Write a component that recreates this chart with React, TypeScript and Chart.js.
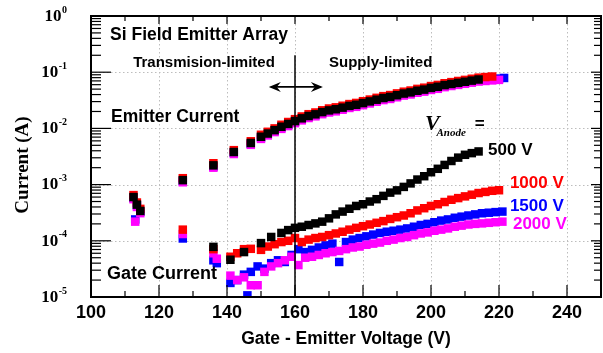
import React, { useEffect, useRef } from "react";
import { Chart, registerables } from "chart.js";

Chart.register(...registerables);

// ---------- data ----------
const emitterVoltage = [
  112.5, 113.5, 114.5, 127, 136, 142, 147, 150, 152, 154, 156, 158, 160, 162, 164, 166, 168, 170,
  172, 174, 176, 178, 180, 182, 184, 186, 188, 190, 192, 194, 196, 198, 200, 202, 204, 206, 208,
  210, 212, 214, 216, 218, 220, 221.5,
];
const emitterCurrent500 = [
  6.0e-4, 4.4e-4, 3.4e-4, 1.2e-3, 2.2e-3, 3.8e-3, 5.5e-3, 7.1e-3, 8.1e-3, 9.3e-3, 1.07e-2, 1.2e-2,
  1.35e-2, 1.51e-2, 1.66e-2, 1.78e-2, 1.95e-2, 2.09e-2, 2.19e-2, 2.34e-2, 2.51e-2, 2.63e-2, 2.82e-2,
  3.02e-2, 3.24e-2, 3.47e-2, 3.63e-2, 3.89e-2, 4.17e-2, 4.37e-2, 4.68e-2, 4.9e-2, 5.25e-2, 5.5e-2,
  5.89e-2, 6.17e-2, 6.46e-2, 6.76e-2, 7.08e-2, 7.41e-2,
];
const emitterCurrent1000 = [
  6.5e-4, 4.8e-4, 3.7e-4, 1.3e-3, 2.4e-3, 4.1e-3, 5.9e-3, 7.7e-3, 8.7e-3, 1.0e-2, 1.16e-2, 1.3e-2,
  1.46e-2, 1.63e-2, 1.79e-2, 1.92e-2, 2.1e-2, 2.26e-2, 2.37e-2, 2.53e-2, 2.71e-2, 2.84e-2, 3.05e-2,
  3.26e-2, 3.5e-2, 3.75e-2, 3.92e-2, 4.2e-2, 4.5e-2, 4.72e-2, 5.05e-2, 5.3e-2, 5.67e-2, 5.94e-2,
  6.36e-2, 6.66e-2, 6.98e-2, 7.3e-2, 7.65e-2, 8.0e-2, 8.2e-2, 8.38e-2,
];
const emitterCurrent1500 = [
  5.8e-4, 4.3e-4, 3.3e-4, 1.16e-3, 2.1e-3, 3.7e-3, 5.3e-3, 6.9e-3, 7.9e-3, 9.0e-3, 1.04e-2, 1.16e-2,
  1.31e-2, 1.46e-2, 1.61e-2, 1.73e-2, 1.89e-2, 2.03e-2, 2.12e-2, 2.27e-2, 2.43e-2, 2.55e-2, 2.74e-2,
  2.93e-2, 3.14e-2, 3.37e-2, 3.52e-2, 3.77e-2, 4.04e-2, 4.24e-2, 4.54e-2, 4.75e-2, 5.09e-2, 5.34e-2,
  5.71e-2, 5.98e-2, 6.27e-2, 6.56e-2, 6.87e-2, 7.19e-2, 7.36e-2, 7.53e-2, 7.7e-2, 7.9e-2,
];
const emitterCurrent2000 = [
  5.5e-4, 4.0e-4, 3.1e-4, 1.1e-3, 2.0e-3, 3.5e-3, 5.1e-3, 6.5e-3, 7.5e-3, 8.6e-3, 9.8e-3, 1.1e-2,
  1.24e-2, 1.39e-2, 1.53e-2, 1.64e-2, 1.79e-2, 1.92e-2, 2.01e-2, 2.15e-2, 2.31e-2, 2.42e-2, 2.59e-2,
  2.78e-2, 2.98e-2, 3.19e-2, 3.34e-2, 3.58e-2, 3.84e-2, 4.02e-2, 4.31e-2, 4.51e-2, 4.83e-2, 5.06e-2,
  5.42e-2, 5.68e-2, 5.94e-2, 6.22e-2, 6.51e-2, 6.82e-2, 6.98e-2, 7.14e-2, 7.3e-2,
];

const gateVoltage500 = [
  136, 141, 145, 150, 153, 156, 158, 160, 162, 164, 166, 168, 170, 172, 174, 176, 178, 180, 182,
  184, 186, 188, 190, 192, 194, 196, 198, 200, 202, 204, 206, 208, 210, 212, 214,
];
const gateCurrent500 = [
  7.8e-5, 4.6e-5, 6.3e-5, 9.1e-5, 1.17e-4, 1.38e-4, 1.55e-4, 1.7e-4, 1.78e-4, 1.91e-4, 2.04e-4,
  2.19e-4, 2.51e-4, 2.95e-4, 3.31e-4, 3.72e-4, 4.17e-4, 4.47e-4, 5.0e-4, 5.5e-4, 6.3e-4, 7.2e-4,
  7.9e-4, 9.1e-4, 1.05e-3, 1.23e-3, 1.41e-3, 1.66e-3, 1.91e-3, 2.24e-3, 2.63e-3, 3.02e-3, 3.39e-3,
  3.63e-3, 3.89e-3,
];
const gateVoltage1000 = [
  127, 136, 141, 143, 145, 147, 150, 152, 154, 156, 158, 160, 162, 164, 166, 168, 170, 172, 174,
  176, 178, 180, 182, 184, 186, 188, 190, 192, 194, 196, 198, 200, 202, 204, 206, 208, 210, 212,
  214, 216, 218, 220,
];
const gateCurrent1000 = [
  1.58e-4, 7.1e-5, 5.2e-5, 6.0e-5, 7.1e-5, 7.2e-5, 6.9e-5, 7.9e-5, 8.7e-5, 9.5e-5, 1.0e-4, 1.12e-4,
  9.5e-5, 1.05e-4, 1.12e-4, 1.17e-4, 1.26e-4, 1.35e-4, 1.45e-4, 1.58e-4, 1.7e-4, 1.82e-4, 1.95e-4,
  2.09e-4, 2.24e-4, 2.45e-4, 2.63e-4, 2.82e-4, 3.09e-4, 3.47e-4, 3.8e-4, 4.17e-4, 4.47e-4, 4.9e-4,
  5.37e-4, 5.75e-4, 6.17e-4, 6.61e-4, 7.08e-4, 7.41e-4, 7.76e-4, 7.94e-4,
];
const gateVoltage1500 = [
  113, 127, 136, 137, 141, 143, 145, 146, 147, 149, 151, 153, 155, 157, 159, 161, 163, 165, 167,
  169, 171, 173, 175, 177, 179, 181, 183, 185, 187, 189, 191, 193, 195, 197, 199, 201, 203, 205,
  207, 209, 211, 213, 215, 217, 219, 221,
];
const gateCurrent1500 = [
  2.4e-4, 1.1e-4, 4.5e-5, 4.0e-5, 1.78e-5, 2.0e-5, 2.5e-5, 1.07e-5, 2.8e-5, 3.5e-5, 3.2e-5, 4.0e-5,
  4.5e-5, 4.2e-5, 5.6e-5, 7.1e-5, 6.3e-5, 6.9e-5, 7.6e-5, 8.3e-5, 8.9e-5, 4.2e-5, 9.5e-5, 1.05e-4,
  1.12e-4, 1.2e-4, 1.29e-4, 1.38e-4, 1.45e-4, 1.51e-4, 1.58e-4, 1.66e-4, 1.78e-4, 1.91e-4, 2.0e-4,
  2.14e-4, 2.29e-4, 2.4e-4, 2.57e-4, 2.69e-4, 2.82e-4, 2.95e-4, 3.09e-4, 3.16e-4, 3.24e-4, 3.31e-4,
];
const gateVoltage2000 = [
  113, 127, 136, 137, 141, 143, 145, 147, 149, 151, 153, 155, 157, 159, 161, 163, 165, 167, 169,
  171, 173, 175, 177, 179, 181, 183, 185, 187, 189, 191, 193, 195, 197, 199, 201, 203, 205, 207,
  209, 211, 213, 215, 217, 219, 221,
];
const gateCurrent2000 = [
  2.19e-4, 1.32e-4, 6.0e-5, 4.8e-5, 2.4e-5, 2.0e-5, 2.24e-5, 1.62e-5, 1.62e-5, 2.8e-5, 3.5e-5,
  4.0e-5, 4.5e-5, 5.2e-5, 3.7e-5, 5.0e-5, 5.2e-5, 5.6e-5, 6.0e-5, 6.3e-5, 6.6e-5, 7.1e-5, 7.6e-5,
  7.9e-5, 8.5e-5, 8.9e-5, 9.3e-5, 1.0e-4, 1.05e-4, 1.12e-4, 1.17e-4, 1.26e-4, 1.35e-4, 1.41e-4,
  1.51e-4, 1.58e-4, 1.66e-4, 1.78e-4, 1.86e-4, 1.95e-4, 2.0e-4, 2.04e-4, 2.09e-4, 2.14e-4, 2.19e-4,
];

const xTickLabels = [100, 120, 140, 160, 180, 200, 220, 240];
const yDecades = [1, 1e-1, 1e-2, 1e-3, 1e-4, 1e-5];
const yExponents = ["0", "-1", "-2", "-3", "-4", "-5"];
const anodeLabels = ["500 V", "1000 V", "1500 V", "2000 V"];
const xAxisTitle = "Gate - Emitter Voltage (V)";
const yAxisTitle = "Current (A)";
const regionBoundary = 160;

// ---------- styles ----------
const COLORS = ["#000000", "#ff0000", "#0000ff", "#ff00ff"];
const SANS = '"Liberation Sans", Arial, sans-serif';
const SERIF = '"Liberation Serif", "Times New Roman", serif';

type Note = { text: string; x: number; y: number; font: string; color: string };
const notes: Note[] = [
  { text: "Si Field Emitter Array", x: 105.6, y: 0.459, font: `bold 17.5px ${SANS}`, color: "#000" },
  { text: "Transmision-limited", x: 112.4, y: 0.146, font: `bold 15px ${SANS}`, color: "#000" },
  { text: "Supply-limited", x: 170, y: 0.146, font: `bold 15px ${SANS}`, color: "#000" },
  { text: "Emitter Current", x: 105.9, y: 0.016, font: `bold 17.5px ${SANS}`, color: "#000" },
  { text: "Gate Current", x: 104.7, y: 2.57e-5, font: `bold 18px ${SANS}`, color: "#000" },
  { text: "V", x: 198.2, y: 0.0117, font: `bold italic 22px ${SERIF}`, color: "#000" },
  { text: "Anode", x: 201.6, y: 8.3e-3, font: `bold italic 11px ${SERIF}`, color: "#000" },
  { text: "=", x: 212.9, y: 0.0117, font: `bold 17px ${SANS}`, color: "#000" },
  { text: anodeLabels[0], x: 216.8, y: 4.13e-3, font: `bold 17px ${SANS}`, color: COLORS[0] },
  { text: anodeLabels[1], x: 223.2, y: 1.07e-3, font: `bold 17px ${SANS}`, color: COLORS[1] },
  { text: anodeLabels[2], x: 223.2, y: 4.17e-4, font: `bold 17px ${SANS}`, color: COLORS[2] },
  { text: anodeLabels[3], x: 224.1, y: 2.0e-4, font: `bold 17px ${SANS}`, color: COLORS[3] },
];

function pts(xs: number[], ys: number[]) {
  return ys.map((y, i) => ({ x: xs[i], y }));
}

function ds(data: { x: number; y: number }[], color: string) {
  return {
    data,
    backgroundColor: color,
    borderColor: color,
    borderWidth: 0,
    pointBorderWidth: 0,
    pointStyle: "rect" as const,
    pointRadius: 6,
    pointHoverRadius: 6,
    showLine: false,
  };
}

const decorPlugin = {
  id: "decor",
  beforeDatasetsDraw(chart: any) {
    const { ctx, chartArea: a, scales } = chart;
    const x = scales.x;
    const y = scales.y;
    ctx.save();
    ctx.strokeStyle = "#bdbdbd";
    ctx.lineWidth = 1;
    ctx.setLineDash([1.5, 2.5]);
    xTickLabels.forEach((v) => {
      const px = Math.round(x.getPixelForValue(v)) + 0.5;
      if (px <= a.left + 2 || px >= a.right - 2) return;
      ctx.beginPath();
      ctx.moveTo(px, a.top);
      ctx.lineTo(px, a.bottom);
      ctx.stroke();
    });
    yDecades.forEach((d) => {
      const py = Math.round(y.getPixelForValue(d)) + 0.5;
      if (py <= a.top + 2 || py >= a.bottom - 2) return;
      ctx.beginPath();
      ctx.moveTo(a.left, py);
      ctx.lineTo(a.right, py);
      ctx.stroke();
    });
    ctx.restore();
  },
  afterDatasetsDraw(chart: any) {
    const { ctx, chartArea: a, scales } = chart;
    const x = scales.x;
    const y = scales.y;
    ctx.save();
    ctx.strokeStyle = "#000";
    ctx.fillStyle = "#000";
    ctx.lineWidth = 1.2;
    const line = (x1: number, y1: number, x2: number, y2: number) => {
      ctx.beginPath();
      ctx.moveTo(x1, y1);
      ctx.lineTo(x2, y2);
      ctx.stroke();
    };
    x.ticks.forEach((t: any) => {
      const px = x.getPixelForValue(t.value);
      const major = xTickLabels.includes(t.value);
      line(px, a.bottom, px, a.bottom - (major ? 12 : 6));
      line(px, a.top, px, a.top + (major ? 8 : 5));
    });
    yDecades.forEach((d) => {
      const py = y.getPixelForValue(d);
      line(a.left, py, a.left + 20, py);
      line(a.right, py, a.right - 10, py);
      if (d >= 1) return;
      for (let k = 2; k <= 9; k++) {
        const pm = y.getPixelForValue(k * d);
        line(a.left, pm, a.left + 10, pm);
        line(a.right, pm, a.right - 7, pm);
      }
    });
    ctx.lineWidth = 2;
    ctx.strokeRect(a.left, a.top, a.right - a.left, a.bottom - a.top);
    ctx.lineWidth = 1.5;
    const bx = x.getPixelForValue(regionBoundary);
    line(bx, y.getPixelForValue(0.2), bx, a.bottom);
    const ay = y.getPixelForValue(0.0546);
    const x1 = x.getPixelForValue(152.3);
    const x2 = x.getPixelForValue(168.2);
    ctx.lineWidth = 1.8;
    line(x1 + 2, ay, x2 - 2, ay);
    const head = (tip: number, dir: number) => {
      ctx.beginPath();
      ctx.moveTo(tip, ay);
      ctx.lineTo(tip + dir * 12, ay - 5);
      ctx.lineTo(tip + dir * 8, ay);
      ctx.lineTo(tip + dir * 12, ay + 5);
      ctx.closePath();
      ctx.fill();
    };
    head(x1, 1);
    head(x2, -1);
    ctx.restore();
  },
  afterDraw(chart: any) {
    const { ctx, chartArea: a, scales } = chart;
    const x = scales.x;
    const y = scales.y;
    ctx.save();
    ctx.textBaseline = "middle";
    notes.forEach((n) => {
      ctx.font = n.font;
      ctx.fillStyle = n.color;
      ctx.textAlign = "left";
      ctx.fillText(n.text, x.getPixelForValue(n.x), y.getPixelForValue(n.y));
    });
    ctx.fillStyle = "#000";
    yDecades.forEach((d, i) => {
      const py = y.getPixelForValue(d);
      ctx.font = `bold 10px ${SERIF}`;
      const ew = ctx.measureText(yExponents[i]).width;
      ctx.textAlign = "right";
      ctx.fillText(yExponents[i], 67, py - 6);
      ctx.font = `bold 17px ${SERIF}`;
      ctx.fillText("10", 67 - ew - 0.5, py + 0.5);
    });
    ctx.font = `bold 17.5px ${SANS}`;
    ctx.textAlign = "center";
    ctx.fillText(xAxisTitle, (a.left + a.right) / 2, 339);
    ctx.save();
    ctx.translate(23, 165);
    ctx.rotate(-Math.PI / 2);
    ctx.font = `bold 19px ${SERIF}`;
    ctx.fillText(yAxisTitle, 0, 0);
    ctx.restore();
    ctx.restore();
  },
};

export default function App() {
  const ref = useRef<HTMLCanvasElement>(null);
  useEffect(() => {
    if (!ref.current) return;
    const chart = new Chart(ref.current, {
      type: "scatter",
      data: {
        datasets: [
          ds(pts(emitterVoltage, emitterCurrent500), COLORS[0]),
          ds(pts(gateVoltage500, gateCurrent500), COLORS[0]),
          ds(pts(emitterVoltage, emitterCurrent1000), COLORS[1]),
          ds(pts(gateVoltage1000, gateCurrent1000), COLORS[1]),
          ds(pts(emitterVoltage, emitterCurrent2000), COLORS[3]),
          ds(pts(gateVoltage2000, gateCurrent2000), COLORS[3]),
          ds(pts(emitterVoltage, emitterCurrent1500), COLORS[2]),
          ds(pts(gateVoltage1500, gateCurrent1500), COLORS[2]),
        ],
      },
      options: {
        animation: false,
        responsive: false,
        devicePixelRatio: 1,
        events: [],
        layout: { autoPadding: false, padding: { top: 16, right: 2, left: 0, bottom: 0 } },
        plugins: { legend: { display: false }, tooltip: { enabled: false } },
        scales: {
          x: {
            type: "linear",
            min: 100,
            max: 250,
            grid: { display: false },
            border: { display: false },
            ticks: {
              stepSize: 10,
              autoSkip: false,
              maxRotation: 0,
              padding: -3,
              color: "#000",
              font: { family: '"Liberation Sans", Arial, sans-serif', size: 18, weight: "bold" },
              callback: (v: any) => (xTickLabels.includes(Number(v)) ? String(v) : ""),
            },
            afterFit: (s: any) => {
              s.height = 56;
              s.paddingLeft = 0;
              s.paddingRight = 0;
            },
          },
          y: {
            type: "logarithmic",
            min: 1e-5,
            max: 1,
            grid: { display: false },
            border: { display: false },
            ticks: { display: false },
            afterFit: (s: any) => {
              s.width = 91;
              s.paddingTop = 0;
              s.paddingBottom = 0;
            },
          },
        },
      } as any,
      plugins: [decorPlugin],
    });
    return () => chart.destroy();
  }, []);
  return (
    <div style={{ position: "fixed", left: 0, top: 0, width: 603, height: 353, background: "#fff" }}>
      <canvas ref={ref} width={603} height={353} style={{ display: "block" }} />
    </div>
  );
}
